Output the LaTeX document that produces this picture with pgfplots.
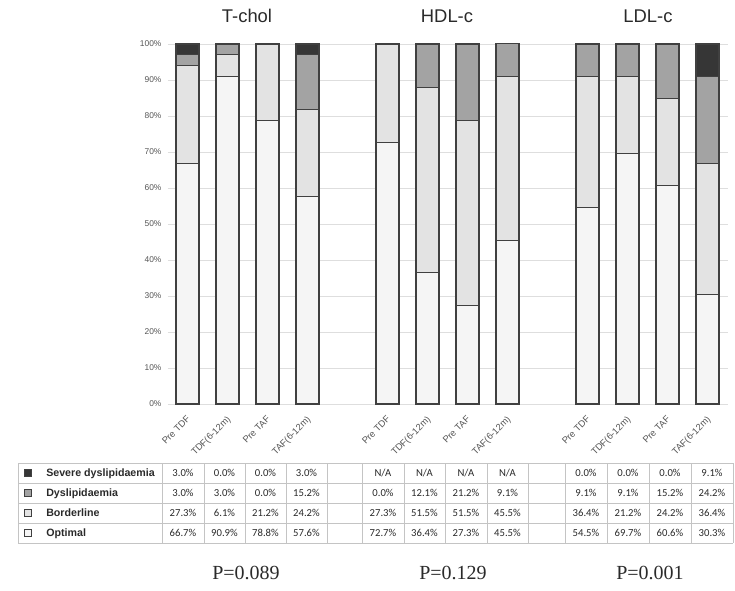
\documentclass[border=0pt]{standalone}
\usepackage{pgfplots}
\pgfplotsset{compat=1.18}
\usepackage{fontspec}
\setmainfont{Liberation Sans}
\newfontfamily\carlito{Carlito}
\newfontfamily\serifP{Liberation Serif}
\definecolor{cSev}{HTML}{363636}
\definecolor{cDys}{HTML}{A3A3A3}
\definecolor{cBor}{HTML}{E3E3E3}
\definecolor{cOpt}{HTML}{F5F5F5}
\definecolor{tickgray}{HTML}{555555}
\definecolor{gridgray}{HTML}{DEDEDE}
\definecolor{tabgray}{HTML}{C4C4C4}
\definecolor{txt}{HTML}{2A2A2A}
\begin{document}
\begin{tikzpicture}
\useasboundingbox (0,0) rectangle (551.25pt,-443.25pt);
\begin{axis}[
  at={(125.625pt,-303pt)}, anchor=south west,
  scale only axis, width=420pt, height=270pt,
  xmin=-0.5, xmax=13.5, ymin=0, ymax=100,
  ybar stacked, bar width=0.575,
  axis line style={draw=none},
  major tick length=0pt,
  ymajorgrids, grid style={gridgray, line width=0.6pt},
  ytick={0,10,...,100},
  yticklabel={\pgfmathprintnumber{\tick}\%},
  /pgf/number format/assume math mode=true,
  yticklabel style={font=\fontsize{6.3}{7}\selectfont, text=tickgray, xshift=-1pt},
  xtick={0,1,2,3,5,6,7,8,10,11,12,13},
  xticklabels={Pre TDF,TDF(6-12m),Pre TAF,TAF(6-12m),Pre TDF,TDF(6-12m),Pre TAF,TAF(6-12m),Pre TDF,TDF(6-12m),Pre TAF,TAF(6-12m)},
  xticklabel style={font=\fontsize{7}{8}\selectfont, xshift=-1pt, yshift=-6.7pt, rotate=45, anchor=north east, text=tickgray, inner sep=1pt},
  clip=false,
]
\addplot[fill=cOpt, draw=black!75, line width=0.8pt] coordinates {(0,66.7)(1,90.9)(2,78.8)(3,57.6)(5,72.7)(6,36.4)(7,27.3)(8,45.5)(10,54.5)(11,69.7)(12,60.6)(13,30.3)};
\addplot[fill=cBor, draw=black!75, line width=0.8pt] coordinates {(0,27.3)(1,6.1)(2,21.2)(3,24.2)(5,27.3)(6,51.5)(7,51.5)(8,45.5)(10,36.4)(11,21.2)(12,24.2)(13,36.4)};
\addplot[fill=cDys, draw=black!75, line width=0.8pt] coordinates {(0,3.0)(1,3.0)(2,0.0)(3,15.2)(5,0.0)(6,12.1)(7,21.2)(8,9.1)(10,9.1)(11,9.1)(12,15.2)(13,24.2)};
\addplot[fill=cSev, draw=black!75, line width=0.8pt] coordinates {(0,3.0)(1,0.0)(2,0.0)(3,3.0)(5,0)(6,0)(7,0)(8,0)(10,0.0)(11,0.0)(12,0.0)(13,9.1)};
\end{axis}
\begin{scope}[x=0.75pt, y=-0.75pt]
  % titles
  \node[font=\fontsize{13.8}{15}\selectfont, text=txt] at (247,16) {T-chol};
  \node[font=\fontsize{13.8}{15}\selectfont, text=txt] at (447,16) {HDL-c};
  \node[font=\fontsize{13.8}{15}\selectfont, text=txt] at (648,16) {LDL-c};
  % table grid
  \foreach \yy in {463,483,503,523,543}
    \draw[tabgray, line width=0.6pt] (18,\yy) -- (733,\yy);
  \foreach \xx in {18,162,204,245,286,327,362,404,445,487,528,565,607,649,691,733}
    \draw[tabgray, line width=0.6pt] (\xx,463) -- (\xx,543);
  % legend squares and labels
  \foreach \yy/\c/\lab in {473/cSev/Severe dyslipidaemia,493/cDys/Dyslipidaemia,513/cBor/Borderline,533/cOpt/Optimal}{
    \draw[fill=\c, draw=black!75, line width=0.6pt] (24.5,\yy-3.5) rectangle (31.5,\yy+3.5);
    \node[anchor=base west, font=\bfseries\fontsize{8}{9}\selectfont, text=txt, inner sep=0pt] at (46,\yy+3.9) {\lab};
  }
  % values
  \foreach \xx/\v in {183/3.0\%,224.5/0.0\%,265.5/0.0\%,306.5/3.0\%,383/{N/A},424.5/{N/A},466/{N/A},507.5/{N/A},586/0.0\%,628/0.0\%,670/0.0\%,712/9.1\%}
    \node[anchor=base, inner sep=0pt, font=\carlito\fontsize{8}{9}\selectfont, text=txt] at (\xx,476.8) {\v};
  \foreach \xx/\v in {183/3.0\%,224.5/3.0\%,265.5/0.0\%,306.5/15.2\%,383/0.0\%,424.5/12.1\%,466/21.2\%,507.5/9.1\%,586/9.1\%,628/9.1\%,670/15.2\%,712/24.2\%}
    \node[anchor=base, inner sep=0pt, font=\carlito\fontsize{8}{9}\selectfont, text=txt] at (\xx,496.8) {\v};
  \foreach \xx/\v in {183/27.3\%,224.5/6.1\%,265.5/21.2\%,306.5/24.2\%,383/27.3\%,424.5/51.5\%,466/51.5\%,507.5/45.5\%,586/36.4\%,628/21.2\%,670/24.2\%,712/36.4\%}
    \node[anchor=base, inner sep=0pt, font=\carlito\fontsize{8}{9}\selectfont, text=txt] at (\xx,516.8) {\v};
  \foreach \xx/\v in {183/66.7\%,224.5/90.9\%,265.5/78.8\%,306.5/57.6\%,383/72.7\%,424.5/36.4\%,466/27.3\%,507.5/45.5\%,586/54.5\%,628/69.7\%,670/60.6\%,712/30.3\%}
    \node[anchor=base, inner sep=0pt, font=\carlito\fontsize{8}{9}\selectfont, text=txt] at (\xx,536.8) {\v};
  % p-values
  \node[font=\serifP\fontsize{15}{17}\selectfont, text=txt] at (246,573) {P=0.089};
  \node[font=\serifP\fontsize{15}{17}\selectfont, text=txt] at (453,573) {P=0.129};
  \node[font=\serifP\fontsize{15}{17}\selectfont, text=txt] at (650,573) {P=0.001};
\end{scope}
\end{tikzpicture}
\end{document}
